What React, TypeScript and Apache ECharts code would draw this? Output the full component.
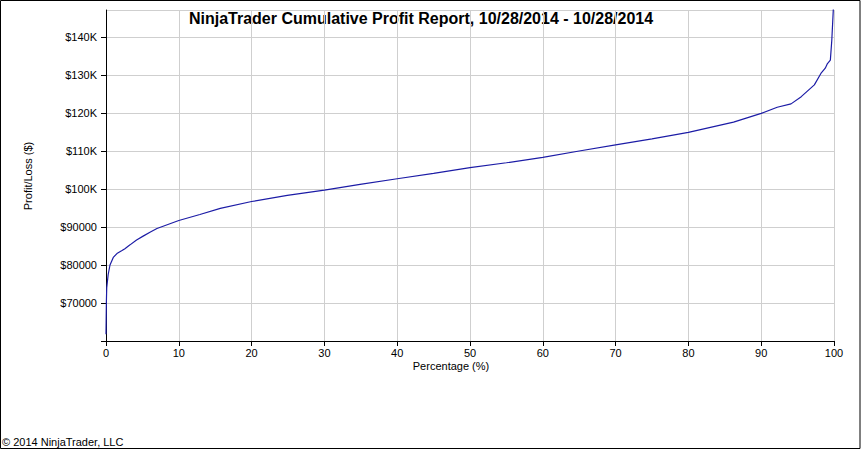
import React, { useEffect, useRef } from "react";
import * as echarts from "echarts";

const TITLE = "NinjaTrader Cumulative Profit Report, 10/28/2014 - 10/28/2014";
const X_NAME = "Percentage (%)";
const Y_NAME = "Profit/Loss ($)";
const COPYRIGHT = "© 2014 NinjaTrader, LLC";

const percentages = [
  0, 0.05, 0.1, 0.3, 0.55, 1.0, 1.5, 2.2, 2.6, 3.3, 4.2, 5.1, 6.1, 7.0, 10, 12.9, 15.7, 20, 24.9,
  30, 34.9, 40, 45, 50, 55, 60, 65, 70, 75, 80, 86.2, 90, 92.2, 94.1, 95.5, 97.3, 98.2, 98.8,
  99.1, 99.5, 99.7, 99.9, 100,
];
const profits = [
  61800, 70000, 74000, 77500, 80000, 82000, 83000, 83800, 84300, 85300, 86600, 87600, 88700,
  89600, 91700, 93300, 94900, 96700, 98300, 99700, 101200, 102700, 104100, 105600, 106900,
  108300, 110000, 111600, 113200, 114900, 117600, 119900, 121500, 122400, 124300, 127400,
  130400, 131800, 133000, 133900, 139200, 147000, 152000,
];

const X_MIN = 0;
const X_MAX = 100;
const X_STEP = 10;
const Y_MIN = 60000;
const Y_MAX = 147100;
const Y_STEP = 10000;

function yLabel(v: number): string {
  if (v === Y_MIN || v % Y_STEP !== 0) return "";
  if (v >= 100000) return "$" + v / 1000 + "K";
  return "$" + v;
}

export default function App() {
  const ref = useRef<HTMLDivElement>(null);
  useEffect(() => {
    if (!ref.current) return;
    const chart = echarts.init(ref.current, undefined, { renderer: "svg" });
    const font = "'Liberation Sans', Arial, sans-serif";
    chart.setOption({
      animation: false,
      backgroundColor: "#ffffff",
      grid: { left: 106, right: 28, top: 10, bottom: 109, containLabel: false },
      xAxis: {
        type: "value",
        min: X_MIN,
        max: X_MAX,
        interval: X_STEP,
        axisLine: { show: true, lineStyle: { color: "#000", width: 1 } },
        axisTick: { show: true, length: 5, lineStyle: { color: "#000" } },
        axisLabel: { color: "#000", fontSize: 11, fontFamily: font, margin: 6 },
        splitLine: { show: true, lineStyle: { color: "#cfcfcf", width: 1 } },
      },
      yAxis: {
        type: "value",
        min: Y_MIN,
        max: Y_MAX,
        interval: Y_STEP,
        axisLine: { show: true, lineStyle: { color: "#000", width: 1 } },
        axisTick: { show: true, length: 5, lineStyle: { color: "#000" } },
        axisLabel: {
          color: "#000",
          fontSize: 11,
          fontFamily: font,
          margin: 9,
          formatter: yLabel,
          showMaxLabel: false,
        },
        splitLine: { show: true, lineStyle: { color: "#cfcfcf", width: 1 } },
      },
      series: [
        {
          type: "line",
          data: percentages.map((p, i) => [p, profits[i]]),
          showSymbol: false,
          symbol: "none",
          clip: true,
          lineStyle: { color: "#1c1ca6", width: 1.2 },
        },
      ],
      graphic: [
        {
          type: "rect",
          shape: { x: 0.5, y: 0.5, width: 859.5, height: 448 },
          style: { fill: "none", stroke: "#000", lineWidth: 1 },
          silent: true,
        },
        {
          type: "text",
          x: 421,
          y: 18,
          style: {
            text: TITLE,
            fill: "#000",
            font: "bold 16px " + font,
            textAlign: "center",
            textVerticalAlign: "middle",
          },
        },
        {
          type: "text",
          x: 28,
          y: 176,
          rotation: Math.PI / 2,
          style: {
            text: Y_NAME,
            fill: "#000",
            font: "11px " + font,
            textAlign: "center",
            textVerticalAlign: "middle",
          },
        },
        {
          type: "text",
          x: 451,
          y: 366,
          style: {
            text: X_NAME,
            fill: "#000",
            font: "11px " + font,
            textAlign: "center",
            textVerticalAlign: "middle",
          },
        },
        {
          type: "text",
          x: 2,
          y: 442,
          style: {
            text: COPYRIGHT,
            fill: "#000",
            font: "11px " + font,
            textAlign: "left",
            textVerticalAlign: "middle",
          },
        },
      ],
    });
    return () => chart.dispose();
  }, []);
  return (
    <div
      ref={ref}
      style={{ position: "fixed", left: 0, top: 0, width: 862, height: 450 }}
    />
  );
}
